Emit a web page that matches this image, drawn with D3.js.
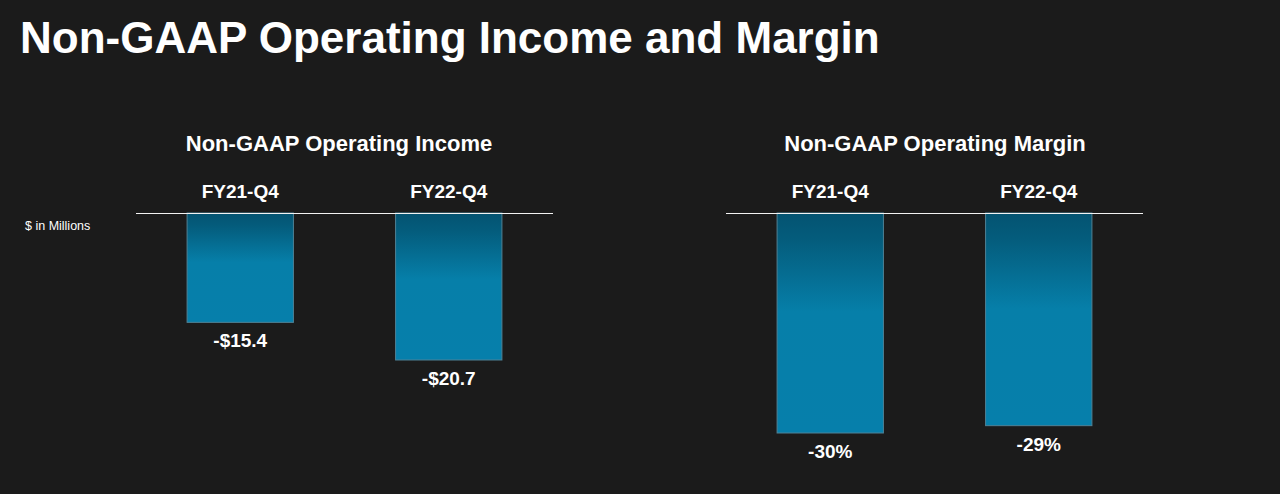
<!DOCTYPE html>
<html>
<head>
<meta charset="utf-8">
<script src="https://cdn.jsdelivr.net/npm/d3@7"></script>
<style>
  body { margin: 0; background: #1b1b1b; }
  svg { display: block; font-family: "Liberation Sans", Arial, sans-serif; }
</style>
</head>
<body>
<div id="chart"></div>
<script>
// data
let quarters = ['FY21-Q4', 'FY22-Q4']
let incomeValues = [-15.4, -20.7]
let incomeLabels = ['-$15.4', '-$20.7']
let marginValues = [-30, -29]
let marginLabels = ['-30%', '-29%']

let width = 1280, height = 494

let svg = d3.select('#chart')
    .append('svg')
        .attr('width', width)
        .attr('height', height)

svg.append('rect')
    .attr('width', width)
    .attr('height', height)
    .attr('fill', '#1b1b1b')

// bar gradient, dark at the top
let grad = svg.append('defs')
    .append('linearGradient')
        .attr('id', 'barGrad')
        .attr('x1', 0).attr('y1', 0).attr('x2', 0).attr('y2', 1)
grad.append('stop').attr('offset', '0%').attr('stop-color', '#045371')
grad.append('stop').attr('offset', '12%').attr('stop-color', '#045c7c')
grad.append('stop').attr('offset', '45%').attr('stop-color', '#067fa9')
grad.append('stop').attr('offset', '100%').attr('stop-color', '#067fab')

svg.append('text')
    .attr('x', 20)
    .attr('y', 53)
    .attr('fill', '#fff')
    .attr('font-size', 44)
    .attr('font-weight', 'bold')
    .text('Non-GAAP Operating Income and Margin')

svg.append('text')
    .attr('x', 25)
    .attr('y', 230)
    .attr('fill', '#fff')
    .attr('font-size', 12.5)
    .text('$ in Millions')

function panel(opts){

    let baseY = 213

    let x = d3.scaleBand()
        .domain(quarters)
        .range([opts.left, opts.left + 417])
        .paddingInner(0.49)
        .paddingOuter(0.245)

    let y = d3.scaleLinear()
        .domain([0, opts.min])
        .range([baseY, opts.bottom])

    let g = svg.append('g')

    g.append('text')
        .attr('x', opts.titleX)
        .attr('y', 151)
        .attr('text-anchor', 'middle')
        .attr('fill', '#fff')
        .attr('font-size', 22)
        .attr('font-weight', 'bold')
        .text(opts.title)

    // category labels sit on top of the zero line
    g.append('g')
        .attr('transform', `translate(0, ${baseY - 15})`)
        .call(d3.axisTop(x).tickSize(0).tickPadding(0))
        .call(a => a.select('.domain').remove())
        .selectAll('text')
            .attr('fill', '#fff')
            .attr('font-size', 19)
            .attr('font-weight', 'bold')
            .attr('font-family', '"Liberation Sans", Arial, sans-serif')

    g.selectAll('.bar')
        .data(opts.values)
        .enter()
        .append('rect')
            .attr('x', (d, i) => x(quarters[i]))
            .attr('y', baseY)
            .attr('width', x.bandwidth())
            .attr('height', d => y(d) - baseY)
            .attr('fill', 'url(#barGrad)')
            .attr('stroke', '#4f8296')
            .attr('stroke-width', 1)

    g.append('line')
        .attr('x1', opts.left).attr('x2', opts.left + 417)
        .attr('y1', baseY + 0.5).attr('y2', baseY + 0.5)
        .attr('stroke', '#f2f2f2')
        .attr('stroke-width', 1)

    g.selectAll('.val')
        .data(opts.values)
        .enter()
        .append('text')
            .attr('x', (d, i) => x(quarters[i]) + x.bandwidth() / 2)
            .attr('y', d => y(d) + 25)
            .attr('text-anchor', 'middle')
            .attr('fill', '#fff')
            .attr('font-size', 19)
            .attr('font-weight', 'bold')
            .text((d, i) => opts.labels[i])
}

panel({left: 136, title: 'Non-GAAP Operating Income', titleX: 339,
       values: incomeValues, labels: incomeLabels, min: -20.7, bottom: 360})

panel({left: 726, title: 'Non-GAAP Operating Margin', titleX: 935,
       values: marginValues, labels: marginLabels, min: -30, bottom: 433})
</script>
</body>
</html>
